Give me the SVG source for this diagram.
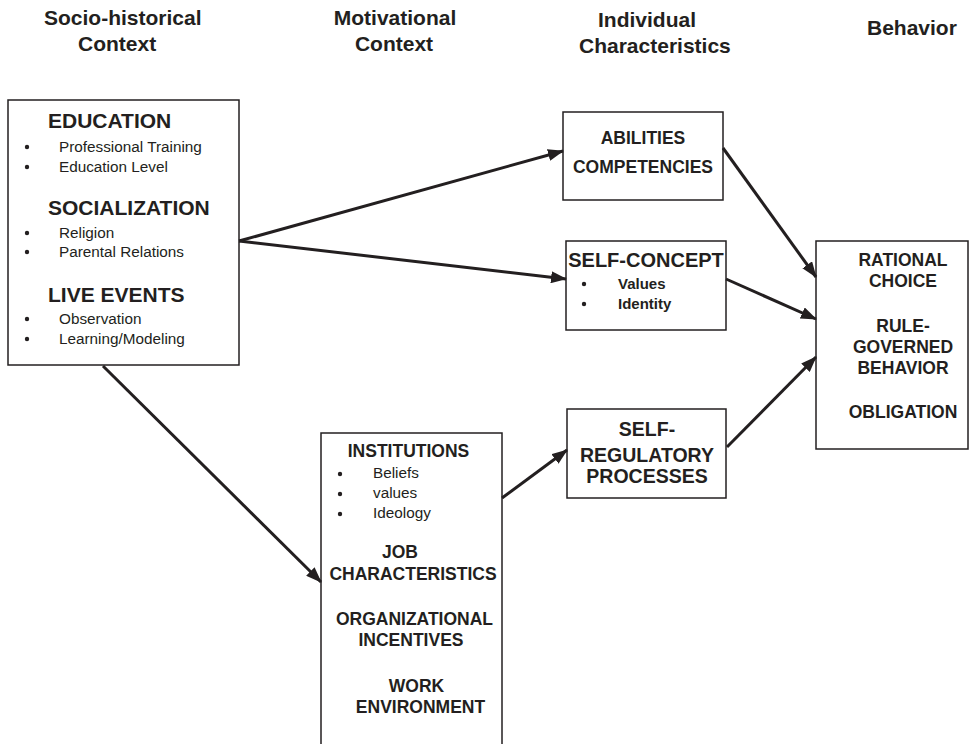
<svg xmlns="http://www.w3.org/2000/svg" width="970" height="744" viewBox="0 0 970 744">
<style>
.box{fill:#fff;stroke:#231f20;stroke-width:1.5}
.hdr{font-family:"Liberation Sans",Arial,sans-serif;font-weight:bold;font-size:21px;fill:#231f20}
.b{font-family:"Liberation Sans",Arial,sans-serif;font-weight:bold;fill:#231f20}
.r{font-family:"Liberation Sans",Arial,sans-serif;font-size:15.3px;fill:#231f20}
.con{stroke:#231f20;stroke-width:3;fill:none;marker-end:url(#ah)}
.dot{fill:#231f20}
</style>
<defs>
<marker id="ah" viewBox="0 0 16 12" markerWidth="16" markerHeight="12" refX="15" refY="6" orient="auto" markerUnits="userSpaceOnUse">
<path d="M0,0 L16,6 L0,12 z" fill="#231f20"/>
</marker>
</defs>
<rect width="970" height="744" fill="#fff"/>
<g id="headers">
<text class="hdr" x="44" y="25">Socio-historical</text>
<text class="hdr" x="78" y="51">Context</text>
<text class="hdr" x="395" y="25" text-anchor="middle">Motivational</text>
<text class="hdr" x="394" y="51" text-anchor="middle">Context</text>
<text class="hdr" x="598" y="27">Individual</text>
<text class="hdr" x="579" y="53">Characteristics</text>
<text class="hdr" x="867" y="35">Behavior</text>
</g>
<g id="socio">
<rect class="box" x="8" y="100" width="231" height="265"/>
<text class="b" x="48" y="128" font-size="21">EDUCATION</text>
<circle class="dot" cx="27" cy="147" r="2.2"/>
<text class="r" x="59" y="152">Professional Training</text>
<circle class="dot" cx="27" cy="167" r="2.2"/>
<text class="r" x="59" y="172">Education Level</text>
<text class="b" x="48" y="215" font-size="21">SOCIALIZATION</text>
<circle class="dot" cx="27" cy="233" r="2.2"/>
<text class="r" x="59" y="238">Religion</text>
<circle class="dot" cx="27" cy="252" r="2.2"/>
<text class="r" x="59" y="257">Parental Relations</text>
<text class="b" x="48" y="302" font-size="21">LIVE EVENTS</text>
<circle class="dot" cx="27" cy="319" r="2.2"/>
<text class="r" x="59" y="324">Observation</text>
<circle class="dot" cx="27" cy="339" r="2.2"/>
<text class="r" x="59" y="344">Learning/Modeling</text>
</g>
<g id="abilities">
<rect class="box" x="563" y="112" width="160" height="88"/>
<text class="b" x="643" y="144" font-size="17.5" text-anchor="middle">ABILITIES</text>
<text class="b" x="643" y="173" font-size="17.5" text-anchor="middle">COMPETENCIES</text>
</g>
<g id="selfconcept">
<rect class="box" x="566" y="241" width="160" height="89"/>
<text class="b" x="646" y="267" font-size="20" text-anchor="middle">SELF-CONCEPT</text>
<circle class="dot" cx="584" cy="284" r="2.2"/>
<text class="b" x="618" y="289" font-size="15">Values</text>
<circle class="dot" cx="584" cy="304" r="2.2"/>
<text class="b" x="618" y="309" font-size="15">Identity</text>
</g>
<g id="selfreg">
<rect class="box" x="567" y="409" width="159" height="89"/>
<text class="b" x="647" y="436" font-size="19.5" text-anchor="middle">SELF-</text>
<text class="b" x="647" y="462" font-size="19.5" text-anchor="middle">REGULATORY</text>
<text class="b" x="647" y="483" font-size="19.5" text-anchor="middle">PROCESSES</text>
</g>
<g id="behavior">
<rect class="box" x="816" y="241" width="152" height="208"/>
<text class="b" x="903" y="266" font-size="17.5" text-anchor="middle">RATIONAL</text>
<text class="b" x="903" y="287" font-size="17.5" text-anchor="middle">CHOICE</text>
<text class="b" x="903" y="332" font-size="17.5" text-anchor="middle">RULE-</text>
<text class="b" x="903" y="353" font-size="17.5" text-anchor="middle">GOVERNED</text>
<text class="b" x="903" y="374" font-size="17.5" text-anchor="middle">BEHAVIOR</text>
<text class="b" x="903" y="418" font-size="17.5" text-anchor="middle">OBLIGATION</text>
</g>
<g id="motivational">
<rect class="box" x="321" y="433" width="181" height="320"/>
<text class="b" x="408.5" y="457" font-size="17.5" text-anchor="middle">INSTITUTIONS</text>
<circle class="dot" cx="340" cy="474" r="2.2"/>
<text class="r" x="373" y="478">Beliefs</text>
<circle class="dot" cx="340" cy="494" r="2.2"/>
<text class="r" x="373" y="498">values</text>
<circle class="dot" cx="340" cy="514" r="2.2"/>
<text class="r" x="373" y="518">Ideology</text>
<text class="b" x="400" y="558" font-size="17.5" text-anchor="middle">JOB</text>
<text class="b" x="413" y="580" font-size="17.5" text-anchor="middle">CHARACTERISTICS</text>
<text class="b" x="414.5" y="625" font-size="17.5" text-anchor="middle">ORGANIZATIONAL</text>
<text class="b" x="411" y="646" font-size="17.5" text-anchor="middle">INCENTIVES</text>
<text class="b" x="416.5" y="692" font-size="17.5" text-anchor="middle">WORK</text>
<text class="b" x="420.5" y="713" font-size="17.5" text-anchor="middle">ENVIRONMENT</text>
</g>
<g id="connectors">
<line class="con" x1="239" y1="241" x2="563" y2="151"/>
<line class="con" x1="239" y1="241" x2="566" y2="279"/>
<line class="con" x1="103" y1="366" x2="321" y2="582"/>
<line class="con" x1="502" y1="498" x2="567" y2="450"/>
<line class="con" x1="723" y1="148" x2="816" y2="277"/>
<line class="con" x1="726" y1="279" x2="816" y2="319"/>
<line class="con" x1="727" y1="447" x2="816" y2="357"/>
</g>
</svg>
